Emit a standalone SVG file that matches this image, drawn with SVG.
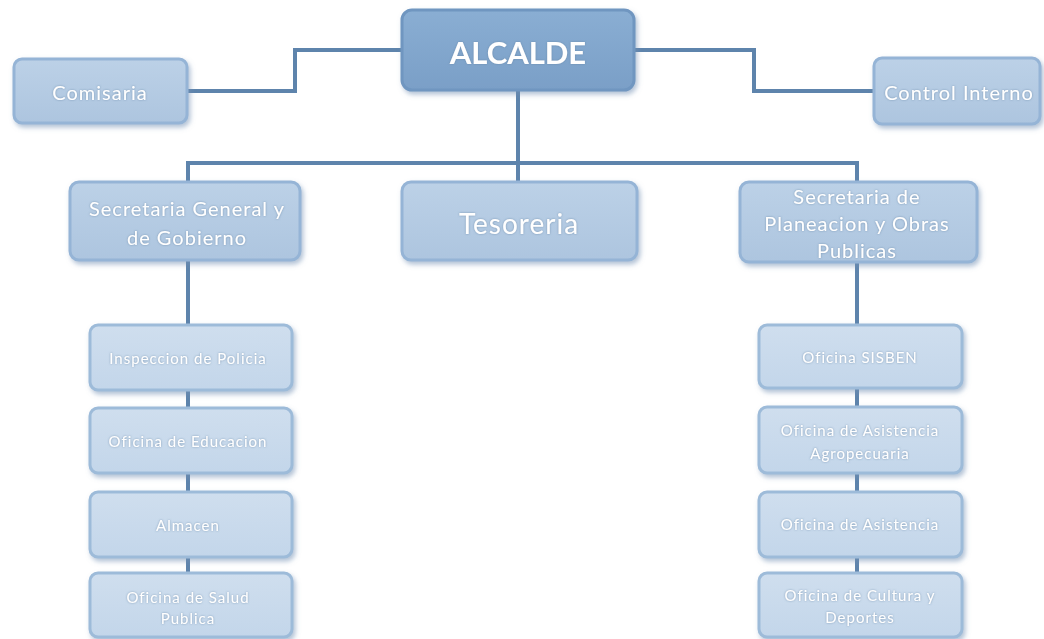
<svg xmlns="http://www.w3.org/2000/svg" width="1044" height="639" viewBox="0 0 1044 639">
<defs>
<filter id="sh" x="-10%" y="-20%" width="125%" height="150%">
<feDropShadow dx="2" dy="3" stdDeviation="2.5" flood-color="#6f8fb3" flood-opacity="0.55"/>
</filter>
<filter id="ts" x="-5%" y="-30%" width="110%" height="160%">
<feDropShadow dx="0" dy="0" stdDeviation="1" flood-color="#5f7f9f" flood-opacity="0.7"/>
</filter>
<linearGradient id="gTop" x1="0" y1="0" x2="0" y2="1">
<stop offset="0" stop-color="#8aaed3"/>
<stop offset="1" stop-color="#7a9fc7"/>
</linearGradient>
<linearGradient id="gMid" x1="0" y1="0" x2="0" y2="1">
<stop offset="0" stop-color="#bcd1e7"/>
<stop offset="1" stop-color="#adc5df"/>
</linearGradient>
<linearGradient id="gLow" x1="0" y1="0" x2="0" y2="1">
<stop offset="0" stop-color="#cfdeee"/>
<stop offset="1" stop-color="#c3d6ea"/>
</linearGradient>
</defs>
<style>
.top{fill:url(#gTop);stroke:#6f96c0;stroke-width:3;filter:url(#sh)}
.mid{fill:url(#gMid);stroke:#95b4d6;stroke-width:3;filter:url(#sh)}
.low{fill:url(#gLow);stroke:#9dbbd9;stroke-width:3;filter:url(#sh)}
.t{font-family:Lato,"Open Sans","Liberation Sans",sans-serif;fill:#ffffff;text-anchor:middle;dominant-baseline:central;filter:url(#ts)}
.big{font-size:31px;font-weight:bold}
.m{font-size:20px;letter-spacing:1px}
.tes{font-size:28px;letter-spacing:1px}
.s{font-size:15px;letter-spacing:1px}
.c{fill:none;stroke:#5e84ac;stroke-width:4}
</style>
<rect width="1044" height="639" fill="#ffffff"/>
<g id="connectors">
<path class="c" d="M187 91 H295 V50 H402"/>
<path class="c" d="M634 50 H754 V91 H874"/>
<path class="c" d="M518 90 V182"/>
<path class="c" d="M188 182 V163 H857 V182"/>
<path class="c" d="M188 260 V325"/>
<path class="c" d="M857 262 V325"/>
<path class="c" d="M188 390 V408 M188 473 V492 M188 557 V573"/>
<path class="c" d="M857 388 V407 M857 473 V492 M857 557 V573"/>
</g>
<g id="alcalde"><rect class="top" x="402" y="10" width="232" height="80" rx="10"/><text class="t big" x="518" y="52">ALCALDE</text></g>
<g id="comisaria"><rect class="mid" x="14" y="59" width="173" height="64" rx="8"/><text class="t m" x="100" y="92">Comisaria</text></g>
<g id="control-interno"><rect class="mid" x="874" y="58" width="166" height="66" rx="8"/><text class="t m" x="959" y="92">Control Interno</text></g>
<g id="secretaria-general"><rect class="mid" x="70" y="182" width="230" height="78" rx="9"/><text class="t m" x="187" y="208">Secretaria General y</text><text class="t m" x="187" y="237">de Gobierno</text></g>
<g id="tesoreria"><rect class="mid" x="402" y="182" width="235" height="78" rx="9"/><text class="t tes" x="519" y="223">Tesoreria</text></g>
<g id="secretaria-planeacion"><rect class="mid" x="740" y="182" width="237" height="80" rx="9"/><text class="t m" x="857" y="196">Secretaria de</text><text class="t m" x="857" y="223">Planeacion y Obras</text><text class="t m" x="857" y="250">Publicas</text></g>
<g id="inspeccion"><rect class="low" x="90" y="325" width="202" height="65" rx="8"/><text class="t s" x="188" y="358">Inspeccion de Policia</text></g>
<g id="educacion"><rect class="low" x="90" y="408" width="202" height="65" rx="8"/><text class="t s" x="188" y="441">Oficina de Educacion</text></g>
<g id="almacen"><rect class="low" x="90" y="492" width="202" height="65" rx="8"/><text class="t s" x="188" y="525">Almacen</text></g>
<g id="salud"><rect class="low" x="90" y="573" width="202" height="64" rx="8"/><text class="t s" x="188" y="597">Oficina de Salud</text><text class="t s" x="188" y="618">Publica</text></g>
<g id="sisben"><rect class="low" x="759" y="325" width="203" height="63" rx="8"/><text class="t s" x="860" y="357">Oficina SISBEN</text></g>
<g id="agropecuaria"><rect class="low" x="759" y="407" width="203" height="66" rx="8"/><text class="t s" x="860" y="430">Oficina de Asistencia</text><text class="t s" x="860" y="453">Agropecuaria</text></g>
<g id="asistencia"><rect class="low" x="759" y="492" width="203" height="65" rx="8"/><text class="t s" x="860" y="524">Oficina de Asistencia</text></g>
<g id="cultura"><rect class="low" x="759" y="573" width="203" height="64" rx="8"/><text class="t s" x="860" y="595">Oficina de Cultura y</text><text class="t s" x="860" y="617">Deportes</text></g>
</svg>
